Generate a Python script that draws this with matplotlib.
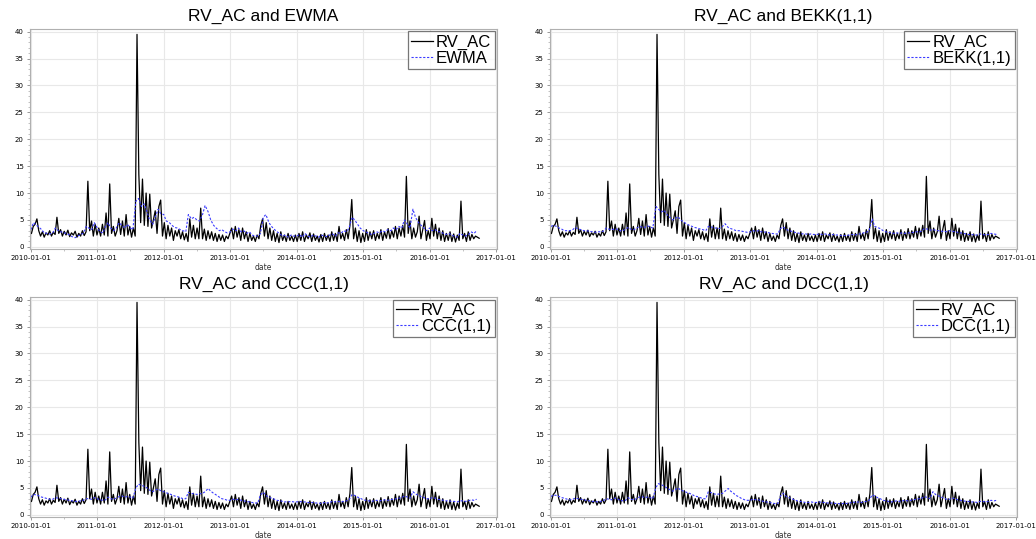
import matplotlib
matplotlib.use("Agg")
import matplotlib.pyplot as plt
import matplotlib.dates as mdates
import numpy as np
import pandas as pd

rv_2010 = [2.5, 3.8, 4.2, 5.2, 3.0, 2.0, 2.8, 1.8, 2.6, 2.2, 3.0, 2.0, 2.7, 2.3, 5.5,
           2.5, 3.2, 2.0, 2.9, 2.2, 3.1, 1.9, 2.6, 2.2, 2.9, 1.8, 2.5, 2.0, 3.0, 2.1, 2.8,
           12.2, 3.0, 4.8, 2.0, 4.2, 2.2]
rv_2011 = [3.5, 2.0, 4.2, 2.2, 6.3, 2.0, 11.7, 2.5, 3.8, 2.0, 3.0, 5.3, 2.3, 4.8, 2.0,
           6.0, 2.2, 3.8, 1.8, 3.5, 2.0, 39.5, 13.5, 4.5, 12.6, 4.0, 10.0, 3.8, 9.8, 3.5,
           5.0, 6.7, 2.5, 7.5, 8.7, 2.0]
rv_2012 = [4.5, 1.5, 4.0, 2.0, 3.5, 1.2, 3.0, 2.0, 3.2, 1.5, 2.8, 1.3, 2.5, 1.0, 5.2,
           1.8, 4.0, 1.5, 3.5, 1.5, 7.2, 1.5, 3.3, 1.2, 3.0, 1.5, 2.8, 1.2, 2.5, 1.0,
           2.3, 1.2, 2.2, 1.0, 2.0, 1.5, 2.5]
rv_2013 = [3.5, 1.5, 3.8, 1.8, 3.2, 1.2, 3.5, 1.5, 2.8, 1.0, 2.5, 1.2, 2.0, 1.0, 2.2,
           1.5, 4.0, 5.2, 2.0, 4.5, 1.5, 3.5, 1.2, 3.0, 1.0, 2.5, 0.8, 2.8, 1.2, 2.2,
           1.0, 2.5, 1.2, 2.0, 1.0, 2.2]
rv_2014 = [1.0, 2.5, 1.2, 2.8, 1.0, 2.2, 1.5, 2.6, 1.0, 2.4, 1.2, 2.0, 0.9, 2.3, 1.0,
           2.5, 1.2, 2.2, 1.0, 2.8, 1.2, 2.5, 1.0, 3.8, 1.5, 2.5, 1.2, 3.2, 1.5, 4.0,
           8.8, 1.5, 3.5, 1.0, 3.0, 0.8, 2.5]
rv_2015 = [1.0, 3.2, 1.2, 2.8, 1.5, 3.0, 1.2, 2.5, 1.5, 3.2, 1.2, 2.8, 1.6, 3.4, 1.5,
           3.0, 1.8, 3.8, 1.5, 3.5, 2.0, 4.0, 1.8, 13.1, 2.5, 4.8, 1.5, 3.5, 1.8, 2.8,
           5.7, 1.5, 3.2, 4.9, 1.2, 3.0]
rv_2016 = [1.5, 5.3, 2.0, 4.2, 1.5, 3.5, 1.2, 3.0, 1.0, 2.5, 1.2, 2.8, 1.0, 2.4, 0.9,
           2.2, 1.2, 8.5, 1.5, 2.5, 1.0, 2.8, 1.2, 2.3, 1.5, 2.0, 1.8, 1.6]
rv_ac = rv_2010 + rv_2011 + rv_2012 + rv_2013 + rv_2014 + rv_2015 + rv_2016

# model forecasts, two values per month (1st and 15th), Jan 2010 - Sep 2016
ewma = [3.2, 4.5, 4.0, 3.6, 3.2, 2.6, 2.5, 2.4, 2.6, 3.5, 3.0, 2.8, 2.6, 2.5, 2.2, 1.9, 1.7, 2.0, 2.3, 2.5, 3.8, 3.5, 3.2, 4.5,
        3.5, 2.8, 2.6, 3.8, 4.5, 3.5, 3.0, 3.5, 4.5, 4.0, 3.5, 4.2, 3.5, 3.2, 8.5, 9.0, 7.5, 8.0, 6.5, 5.0, 4.2, 5.5, 7.0, 6.2,
        6.0, 4.8, 4.5, 4.0, 3.6, 3.5, 3.2, 3.0, 2.8, 6.0, 5.2, 5.5, 5.0, 4.8, 6.0, 7.7, 6.5, 5.0, 4.0, 3.5, 3.0, 3.2, 2.8, 2.6,
        2.8, 3.3, 3.0, 3.5, 2.8, 3.0, 2.5, 2.8, 2.2, 2.0, 2.0, 2.5, 5.5, 6.0, 4.5, 3.8, 3.2, 2.8, 2.4, 2.0, 2.2, 1.8, 2.2, 2.0,
        2.0, 2.3, 1.8, 2.5, 2.0, 1.8, 2.2, 2.0, 1.8, 2.2, 2.0, 1.9, 2.2, 2.4, 2.0, 2.6, 2.5, 3.0, 2.8, 3.5, 5.5, 5.0, 4.2, 3.5,
        3.0, 2.8, 2.5, 2.3, 2.5, 2.8, 2.6, 3.0, 2.8, 3.2, 3.0, 3.5, 3.2, 3.8, 3.5, 5.0, 4.2, 3.5, 7.0, 5.5, 4.5, 4.0, 3.5, 3.0,
        3.5, 3.0, 3.2, 2.8, 2.8, 2.5, 2.3, 2.5, 2.2, 2.0, 1.8, 2.5, 2.2, 2.0, 2.3, 2.8, 2.5, 3.0]
bekk = [3.8, 4.0, 3.8, 3.5, 3.3, 3.0, 3.0, 3.0, 3.2, 3.6, 3.3, 3.2, 3.0, 3.0, 2.9, 2.8, 2.7, 2.8, 2.8, 2.9, 3.5, 3.3, 3.2, 3.3,
        3.3, 3.0, 3.0, 3.3, 3.6, 3.3, 3.2, 3.4, 3.8, 3.7, 3.6, 3.9, 3.7, 3.5, 7.5, 7.0, 6.5, 6.8, 6.0, 5.5, 5.0, 5.3, 5.6, 5.0,
        4.6, 4.3, 4.0, 3.8, 3.6, 3.5, 3.3, 3.2, 3.0, 3.8, 3.7, 3.5, 3.5, 3.4, 3.8, 4.3, 3.6, 3.4, 3.2, 3.0, 3.0, 2.9, 2.8, 2.7,
        2.8, 3.0, 2.9, 3.0, 2.8, 2.8, 2.7, 2.6, 2.5, 2.4, 2.4, 3.4, 3.7, 3.3, 3.0, 2.9, 2.7, 2.6, 2.5, 2.4, 2.4, 2.3, 2.4, 2.3,
        2.3, 2.4, 2.3, 2.4, 2.3, 2.2, 2.3, 2.2, 2.2, 2.1, 2.1, 2.1, 2.2, 2.3, 2.2, 2.4, 2.4, 2.6, 2.7, 3.0, 5.2, 3.8, 3.6, 3.4,
        3.0, 2.8, 2.7, 2.6, 2.5, 2.6, 2.5, 2.6, 2.5, 2.6, 2.6, 2.7, 2.8, 2.8, 2.9, 3.4, 3.3, 3.1, 3.2, 3.1, 3.0, 2.9, 2.9, 2.8,
        3.0, 2.9, 2.8, 2.7, 2.6, 2.5, 2.4, 2.3, 2.3, 2.2, 2.2, 2.4, 2.3, 2.2, 2.3, 2.5, 2.4, 2.3]
ccc = [3.3, 3.8, 3.7, 3.5, 3.3, 3.2, 3.0, 2.9, 2.9, 3.2, 3.1, 3.0, 2.9, 2.8, 2.7, 2.6, 2.5, 2.5, 2.6, 2.7, 3.0, 3.0, 2.9, 3.2,
       3.0, 2.8, 2.7, 2.8, 3.3, 3.0, 2.9, 3.1, 3.4, 3.5, 3.3, 3.4, 3.3, 3.1, 5.0, 5.7, 5.5, 5.3, 5.0, 4.6, 4.3, 4.6, 4.8, 4.5,
       4.3, 4.1, 3.9, 3.7, 3.5, 3.4, 3.2, 3.0, 3.0, 4.2, 4.0, 3.9, 3.8, 3.9, 4.0, 4.3, 4.9, 4.4, 4.0, 3.7, 3.3, 3.0, 2.9, 2.7,
       2.7, 2.9, 2.8, 2.9, 2.7, 2.6, 2.5, 2.4, 2.3, 2.2, 2.2, 3.7, 4.2, 3.6, 3.3, 3.1, 2.9, 2.7, 2.6, 2.5, 2.4, 2.4, 2.5, 2.4,
       2.4, 2.5, 2.4, 2.4, 2.3, 2.3, 2.3, 2.2, 2.2, 2.1, 2.3, 2.2, 2.3, 2.5, 2.4, 2.5, 2.4, 2.5, 2.6, 2.8, 3.8, 3.6, 3.3, 3.1,
       2.8, 2.7, 2.6, 2.5, 2.6, 2.7, 2.6, 2.7, 2.8, 2.7, 2.8, 2.9, 3.0, 3.1, 3.2, 3.5, 3.3, 3.1, 4.3, 3.9, 3.6, 3.4, 3.2, 3.0,
       3.0, 3.2, 3.1, 2.9, 2.8, 2.7, 2.6, 2.6, 2.5, 2.5, 2.4, 2.6, 2.6, 2.5, 2.6, 2.8, 2.7, 2.9]
dcc = [3.4, 3.7, 3.6, 3.4, 3.2, 3.1, 2.9, 2.8, 2.9, 3.1, 3.0, 2.9, 2.8, 2.7, 2.6, 2.5, 2.5, 2.4, 2.5, 2.6, 3.0, 2.9, 2.8, 3.1,
       3.0, 2.7, 2.6, 2.7, 3.2, 2.9, 2.8, 3.0, 3.3, 3.4, 3.2, 3.3, 3.2, 3.0, 5.1, 5.8, 5.6, 5.3, 5.0, 4.7, 4.4, 4.7, 5.0, 4.6,
       4.4, 4.2, 4.0, 3.8, 3.5, 3.4, 3.2, 3.0, 3.0, 4.3, 4.1, 3.9, 3.8, 3.9, 4.0, 4.4, 4.9, 4.4, 4.0, 3.6, 3.3, 3.0, 2.8, 2.7,
       2.7, 2.9, 2.8, 2.8, 2.6, 2.5, 2.4, 2.3, 2.2, 2.1, 2.1, 3.5, 4.0, 3.5, 3.2, 3.0, 2.8, 2.6, 2.5, 2.4, 2.3, 2.3, 2.4, 2.3,
       2.3, 2.4, 2.3, 2.3, 2.2, 2.2, 2.2, 2.1, 2.1, 2.0, 2.2, 2.1, 2.2, 2.4, 2.3, 2.4, 2.3, 2.4, 2.5, 2.7, 3.7, 3.5, 3.2, 3.0,
       2.7, 2.6, 2.5, 2.4, 2.5, 2.6, 2.5, 2.6, 2.7, 2.6, 2.7, 2.8, 2.9, 3.0, 3.1, 3.4, 3.2, 3.0, 4.3, 3.8, 3.5, 3.3, 3.1, 2.9,
       2.9, 3.1, 3.0, 2.8, 2.7, 2.6, 2.5, 2.5, 2.4, 2.4, 2.3, 2.5, 2.5, 2.4, 2.5, 2.7, 2.6, 2.7]

rv_dates = pd.date_range("2010-01-04", periods=len(rv_ac), freq="10D")
model_dates = pd.date_range("2010-01-01", periods=len(ewma), freq="SMS")

panels = [("EWMA", ewma), ("BEKK(1,1)", bekk), ("CCC(1,1)", ccc), ("DCC(1,1)", dcc)]

W, H = 1036, 539
fig = plt.figure(figsize=(W / 100, H / 100), dpi=100)
# axes boxes in pixels: left, top, right, bottom
boxes = [(30, 29, 497, 249), (550, 29, 1017, 249),
         (30, 297, 497, 517), (550, 297, 1017, 517)]

for (name, vals), (l, t, r, b) in zip(panels, boxes):
    ax = fig.add_axes([l / W, 1 - b / H, (r - l) / W, (b - t) / H])
    ax.plot(rv_dates, rv_ac, color="black", lw=0.9, label="RV_AC")
    ax.plot(model_dates, vals, color="#3a3aff", lw=0.8, ls=(0, (2, 1.5)), label=name)
    ax.set_xlim(pd.Timestamp("2009-12-27"), pd.Timestamp("2017-01-05"))
    ax.set_ylim(-0.4, 40.5)
    ax.set_yticks(np.arange(0, 41, 5))
    ax.yaxis.set_minor_locator(matplotlib.ticker.MultipleLocator(1))
    ax.xaxis.set_major_locator(mdates.YearLocator())
    ax.xaxis.set_minor_locator(mdates.MonthLocator(bymonth=7))
    ax.xaxis.set_major_formatter(mdates.DateFormatter("%Y-%m-%d"))
    ax.grid(True, which="major", color="#e8e8e8", lw=0.8)
    ax.set_axisbelow(True)
    for s in ax.spines.values():
        s.set_color("#b0b0b0")
        s.set_linewidth(0.8)
    ax.tick_params(which="major", labelsize=5, length=2.5, width=0.6, color="#888888", pad=2)
    ax.tick_params(which="minor", length=1.2, width=0.5, color="#aaaaaa")
    ax.set_xlabel("date", fontsize=5.5, labelpad=1, color="#333333")
    ax.set_title("RV_AC and " + name, fontsize=12.5, pad=6, family="Liberation Sans")
    leg = ax.legend(loc="upper right", frameon=True, fancybox=False,
                    prop={"family": "Liberation Sans", "size": 12},
                    edgecolor="#555555", borderaxespad=0.15, borderpad=0.2,
                    handlelength=1.3, handletextpad=0.2, labelspacing=0.05)
    leg.get_frame().set_linewidth(0.9)

fig.savefig("out.png", dpi=100)
